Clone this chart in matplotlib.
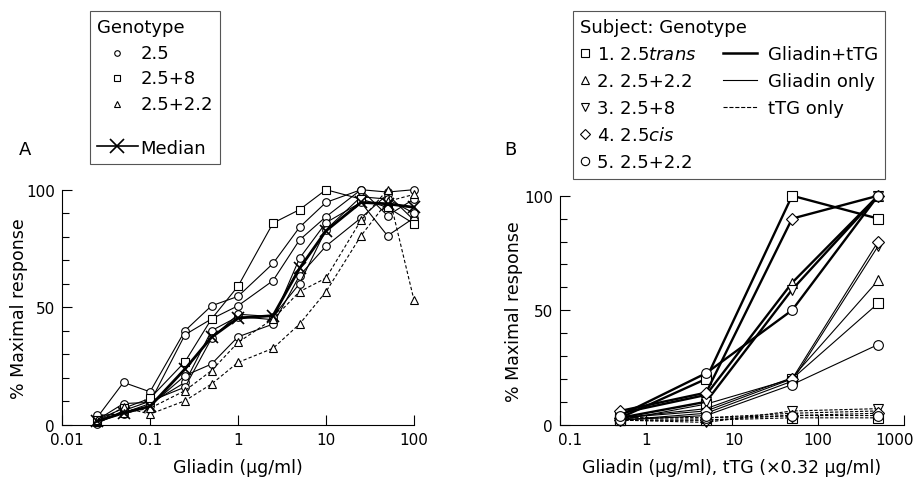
import numpy as np
import matplotlib
matplotlib.use('Agg')
import matplotlib.pyplot as plt
import matplotlib.transforms as mtransforms
from matplotlib.lines import Line2D

plt.rcParams['font.family'] = 'DejaVu Sans'
plt.rcParams['mathtext.fontset'] = 'dejavusans'

# ---- panel A data: % maximal response vs gliadin dose ----
dose_a = [0.025, 0.05, 0.1, 0.25, 0.5, 1, 2.5, 5, 10, 25, 50, 100]
circle_a = [
    [3, 18, 14, 40, 50.6, 54.6, 68.6, 84, 94.6, 100, 99, 100],
    [2, 9, 9.5, 38.3, 45, 50.6, 61.3, 78.6, 88.5, 100, 89, 96],
    [1, 5, 9, 18, 40, 46, 44.7, 70.8, 86, 94.6, 80.4, 88],
    [4, 4.5, 8, 20.9, 25.8, 37.4, 42.8, 63.4, 76, 88, 98, 87],
    [0.5, 6, 10, 16, 36.7, 47, 46, 60, 83, 97, 96, 90],
]
square_a = [[2, 7, 11.2, 26.8, 45, 58.9, 85.8, 91.5, 100, 96, 92.5, 85.5]]
triangle_a = [
    [1, 7.4, 4.5, 10.2, 17.3, 26.5, 32.5, 42.8, 56.6, 80.4, 95, 98],
    [2, 5, 7, 14.5, 23, 35, 45, 56.6, 62.4, 87, 100, 53],
]
median_a = [1.5, 5, 7.8, 23.7, 37.2, 45.4, 46.4, 66.5, 82.5, 94.6, 94, 92.5]

# ---- panel B data: 5 subjects x 3 conditions ----
dose_b = [0.5, 5, 50, 500]
subjects = ['1. 2.5$\\it{trans}$', '2. 2.5+2.2', '3. 2.5+8', '4. 2.5$\\it{cis}$', '5. 2.5+2.2']
subject_markers = ['s', '^', 'v', 'D', 'o']
gliadin_ttg = [
    [3, 20, 100, 90],
    [5, 13, 62, 100],
    [3, 10, 59, 100],
    [6, 14, 90, 100],
    [4, 22.5, 50, 100],
]
gliadin_only = [
    [2, 9, 20, 53],
    [3, 7, 20.5, 63],
    [2, 5, 19, 78],
    [3, 6, 20, 80],
    [2, 4, 17.5, 35],
]
ttg_only = [
    [2, 2, 3, 3],
    [3, 3, 5, 6],
    [2, 1, 6, 7],
    [2, 2, 4, 5],
    [3, 3, 4, 4],
]

W, H = 919, 481
fig = plt.figure(figsize=(W / 100, H / 100), dpi=100)


def style_axes(ax, xlim, xticks, xlabels, xlabel, shifts):
    ax.set_xscale('log')
    ax.set_xlim(*xlim)
    ax.set_ylim(0, 100)
    for s in ['top', 'right']:
        ax.spines[s].set_visible(False)
    ax.set_xticks(xticks)
    ax.set_xticklabels(xlabels)
    ax.xaxis.set_minor_locator(matplotlib.ticker.NullLocator())
    ax.set_yticks([0, 50, 100])
    ax.set_yticks(np.arange(0, 101, 10), minor=True)
    ax.tick_params(direction='in', length=7, width=0.8, labelsize=11, pad=5)
    ax.tick_params(axis='y', which='minor', direction='in', length=5, width=0.8)
    ax.set_xlabel(xlabel, fontsize=12.5, labelpad=8)
    ax.set_ylabel('% Maximal response', fontsize=12.5)
    # nudge the end tick labels inward like the original
    for lab, dx in zip(ax.get_xticklabels(), shifts):
        if dx:
            off = mtransforms.ScaledTranslation(dx / 100, 0, fig.dpi_scale_trans)
            lab.set_transform(lab.get_transform() + off)


class LongLineHandler:
    # line handle that may reach past the legend's handle box
    def __init__(self, left, right=0, marker=None):
        self.left, self.right, self.marker = left, right, marker

    def legend_artist(self, legend, orig_handle, fontsize, handlebox):
        x0, y0 = -handlebox.xdescent, -handlebox.ydescent
        w, h = handlebox.width, handlebox.height
        ln = Line2D([x0 - self.left, x0 + w + self.right], [y0 + h / 2] * 2,
                    color='black', lw=orig_handle.get_linewidth(),
                    linestyle=orig_handle.get_linestyle())
        handlebox.add_artist(ln)
        if self.marker:
            mk_ = Line2D([x0 + w / 2], [y0 + h / 2], ls='none', marker=self.marker,
                         ms=orig_handle.get_markersize(), mew=orig_handle.get_markeredgewidth(),
                         color='black')
            handlebox.add_artist(mk_)
        return ln


# ---- panel A ----
axA = fig.add_axes([62 / W, 1 - 425.7 / H, 352 / W, 235 / H])
mk = dict(mfc='white', mec='black', mew=0.8, clip_on=False, color='black')
for ys in circle_a:
    axA.plot(dose_a, ys, '-', marker='o', ms=5.5, lw=0.8, **mk)
for ys in square_a:
    axA.plot(dose_a, ys, '-', marker='s', ms=5.5, lw=0.8, **mk)
for ys in triangle_a:
    axA.plot(dose_a, ys, '--', marker='^', ms=6, lw=0.8, dashes=(3, 2), **mk)
axA.plot(dose_a, median_a, '-', color='black', lw=2, marker='x', ms=8, mew=1.2, clip_on=False)
style_axes(axA, (0.01, 100), [0.01, 0.1, 1, 10, 100], ['0.01', '0.1', '1', '10', '100'],
           'Gliadin (µg/ml)', [5, 0, 0, 0, 0])
axA.yaxis.labelpad = -1

med_handle = Line2D([], [], color='black', lw=1.2, marker='x', ms=10, mew=1.2)
hA = [Line2D([], [], ls='none', marker='o', ms=4, mfc='white', mec='black', mew=0.8),
      Line2D([], [], ls='none', marker='s', ms=4, mfc='white', mec='black', mew=0.8),
      Line2D([], [], ls='none', marker='^', ms=4.5, mfc='white', mec='black', mew=0.8),
      Line2D([], [], ls='none'),
      med_handle]
legA = fig.legend(hA, ['2.5', '2.5+8', '2.5+2.2', '', 'Median'], title='Genotype',
                  handler_map={med_handle: LongLineHandler(0, 1, 'x')},
                  loc='upper left', bbox_to_anchor=(90 / W, 1 - 12 / H), borderaxespad=0,
                  fontsize=13, title_fontsize=13, alignment='left', handlelength=2.2,
                  handleheight=0.3, handletextpad=0.2, labelspacing=0.42, borderpad=0.4,
                  fancybox=False, edgecolor='#555555', framealpha=1)
legA.get_frame().set_linewidth(0.8)
legA.get_texts()[3].set_fontsize(1)  # spacer row, only a small gap

# ---- panel B ----
axB = fig.add_axes([560 / W, 1 - 425.7 / H, 344 / W, 229 / H])
for i in range(len(subjects)):
    m = subject_markers[i]
    ms = 6 if m == 'D' else 7
    axB.plot(dose_b, ttg_only[i], '--', marker=m, ms=ms, lw=0.8, dashes=(3, 1.5), **mk)
    axB.plot(dose_b, gliadin_only[i], '-', marker=m, ms=ms, lw=0.8, **mk)
    axB.plot(dose_b, gliadin_ttg[i], '-', marker=m, ms=ms, lw=1.7, **mk)
style_axes(axB, (0.1, 1000), [0.1, 1, 10, 100, 1000], ['0.1', '1', '10', '100', '1000'],
           'Gliadin (µg/ml), tTG (×0.32 µg/ml)', [10, 0, 2, 0, -9])
axB.yaxis.labelpad = 1

hB = [Line2D([], [], ls='none', marker=m, ms=6 if m != 'D' else 5, mfc='white',
             mec='black', mew=0.8) for m in subject_markers]
line_handles = [Line2D([], [], color='black', lw=1.8, ls='-'),
                Line2D([], [], color='black', lw=0.8, ls='-'),
                Line2D([], [], color='black', lw=0.8, ls=(0, (2, 1)))]
blank = [Line2D([], [], ls='none'), Line2D([], [], ls='none')]
hmap = {h: LongLineHandler(20, -3) for h in line_handles}
legB = fig.legend(hB + line_handles + blank,
                  subjects + ['Gliadin+tTG', 'Gliadin only', 'tTG only', '', ''],
                  title='Subject: Genotype', ncol=2, handler_map=hmap,
                  loc='upper left', bbox_to_anchor=(573 / W, 1 - 12 / H), borderaxespad=0,
                  fontsize=13, title_fontsize=13, alignment='left', handlelength=0.55,
                  handletextpad=0.4, labelspacing=0.5, borderpad=0.4, columnspacing=3.0,
                  fancybox=False, edgecolor='#555555', framealpha=1)
legB.get_frame().set_linewidth(0.8)

fig.text(25 / W, 1 - 150 / H, 'A', fontsize=13, ha='center', va='center')
fig.text(510 / W, 1 - 150 / H, 'B', fontsize=13, ha='center', va='center')

fig.savefig('out.png', dpi=100)
